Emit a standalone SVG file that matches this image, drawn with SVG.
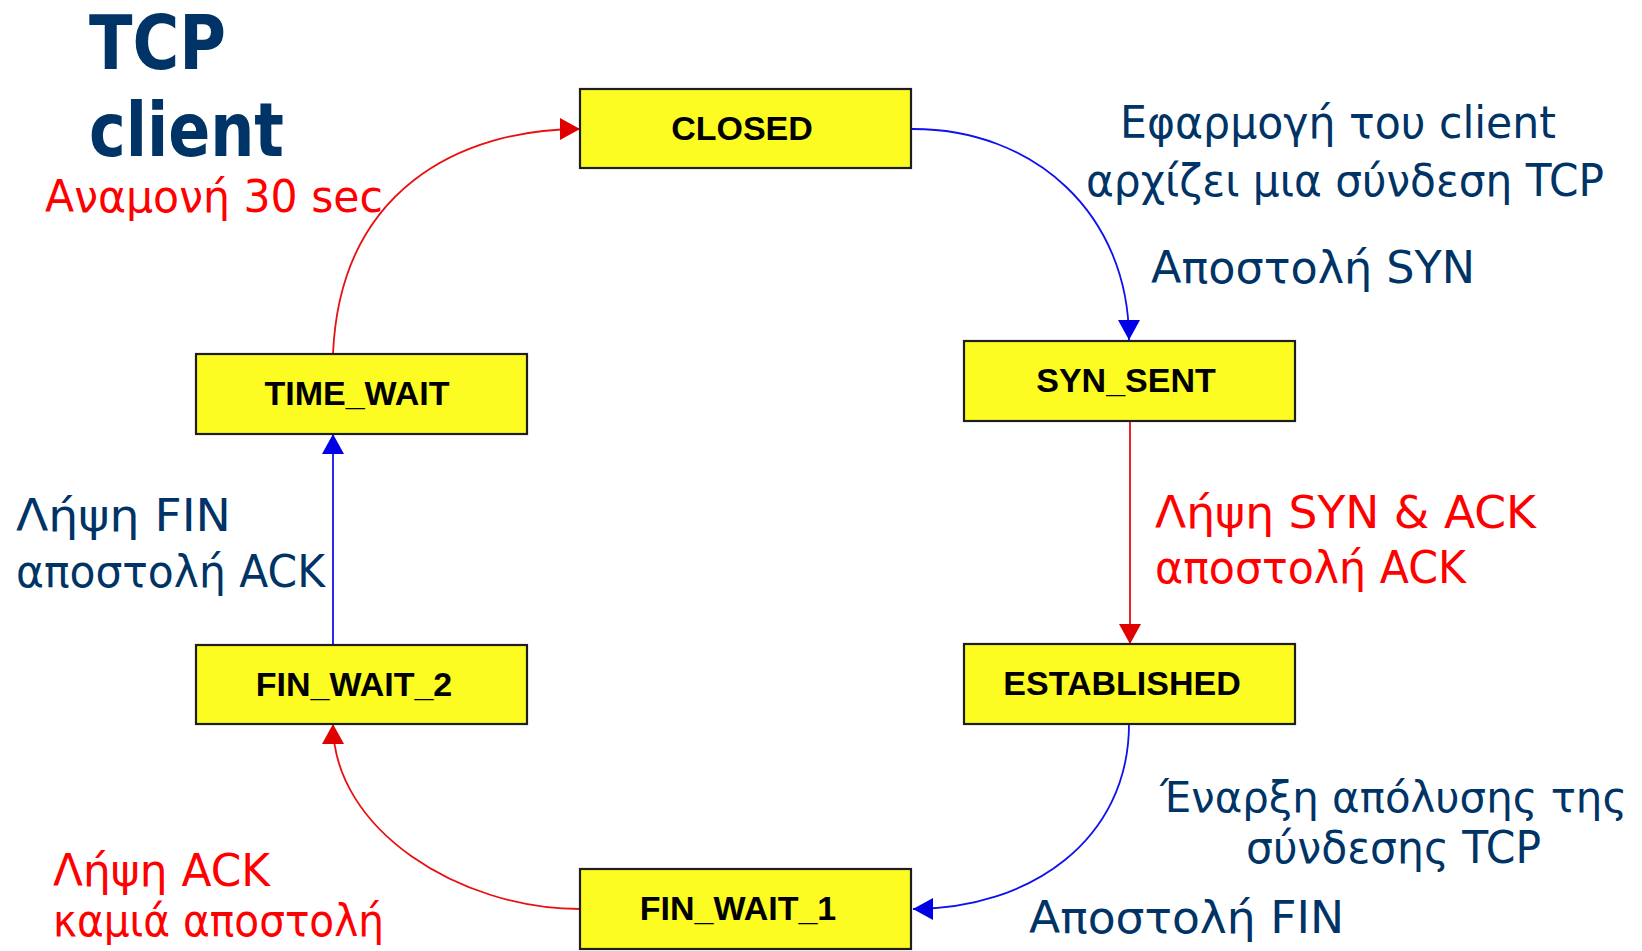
<svg xmlns="http://www.w3.org/2000/svg" width="1642" height="951" viewBox="0 0 1642 951">
<defs>
<style>
.box{fill:#FCFC22;stroke:#1e1e1e;stroke-width:2.2}
.st{font-family:"Liberation Sans",Arial,sans-serif;font-weight:bold;font-size:34px;fill:#000;text-anchor:middle}
.lb{font-family:"DejaVu Sans","Noto Sans",sans-serif;font-size:44px}
.navy{fill:#003366}
.red{fill:#FF0000}
.title{font-family:"DejaVu Sans","Noto Sans",sans-serif;font-weight:bold;font-size:74px;fill:#003366}
.cb{fill:none;stroke:#1010F0;stroke-width:1.8}
.cr{fill:none;stroke:#E81010;stroke-width:1.8}
</style>
<marker id="ab" viewBox="0 0 20 22" refX="20" refY="11" markerWidth="20" markerHeight="22" markerUnits="userSpaceOnUse" orient="auto">
<path d="M0,0 L20,11 L0,22 z" fill="#0000E8"/>
</marker>
<marker id="ar" viewBox="0 0 20 22" refX="20" refY="11" markerWidth="20" markerHeight="22" markerUnits="userSpaceOnUse" orient="auto">
<path d="M0,0 L20,11 L0,22 z" fill="#E00000"/>
</marker>
</defs>
<rect width="1642" height="951" fill="#ffffff"/>

<g id="connectors">
<path class="cb" d="M911,129 C1035,128 1129,215 1129,340" marker-end="url(#ab)"/>
<path class="cr" d="M1130,421 L1130,644" marker-end="url(#ar)"/>
<path class="cb" d="M1129,724 C1129,840 1030,909 913,909" marker-end="url(#ab)"/>
<path class="cr" d="M580,909 C460,909 333,830 333,724" marker-end="url(#ar)"/>
<path class="cb" d="M333,645 L333,434" marker-end="url(#ab)"/>
<path class="cr" d="M333,354 C340,190 460,129 580,129" marker-end="url(#ar)"/>
</g>

<g id="closed"><rect class="box" x="580" y="89" width="331" height="79"/><text class="st" x="742" y="140">CLOSED</text></g>
<g id="syn_sent"><rect class="box" x="964" y="341" width="331" height="80"/><text class="st" x="1126" y="392">SYN_SENT</text></g>
<g id="established"><rect class="box" x="964" y="644" width="331" height="80"/><text class="st" x="1122" y="695">ESTABLISHED</text></g>
<g id="fin_wait_1"><rect class="box" x="580" y="869" width="331" height="80"/><text class="st" x="738" y="920">FIN_WAIT_1</text></g>
<g id="fin_wait_2"><rect class="box" x="196" y="645" width="331" height="79"/><text class="st" x="354" y="696">FIN_WAIT_2</text></g>
<g id="time_wait"><rect class="box" x="196" y="354" width="331" height="80"/><text class="st" x="357" y="405">TIME_WAIT</text></g>

<g id="labels">
<text class="title" x="89" y="69" textLength="137" lengthAdjust="spacingAndGlyphs">TCP</text>
<text class="title" x="89" y="156" textLength="195" lengthAdjust="spacingAndGlyphs">client</text>
<text class="lb red" x="45" y="212" textLength="338" lengthAdjust="spacingAndGlyphs">Αναμονή 30 sec</text>
<text class="lb navy" x="1120" y="138" textLength="436" lengthAdjust="spacingAndGlyphs">Εφαρμογή του client</text>
<text class="lb navy" x="1086" y="196" textLength="518" lengthAdjust="spacingAndGlyphs">αρχίζει μια σύνδεση TCP</text>
<text class="lb navy" x="1151" y="283" textLength="324" lengthAdjust="spacingAndGlyphs">Αποστολή SYN</text>
<text class="lb red" x="1155" y="528" textLength="381" lengthAdjust="spacingAndGlyphs">Λήψη SYN &amp; ACK</text>
<text class="lb red" x="1155" y="583" textLength="311" lengthAdjust="spacingAndGlyphs">αποστολή ACK</text>
<text class="lb navy" x="16" y="531" textLength="215" lengthAdjust="spacingAndGlyphs">Λήψη FIN</text>
<text class="lb navy" x="16" y="587" textLength="309" lengthAdjust="spacingAndGlyphs">αποστολή ACK</text>
<text class="lb navy" x="1160" y="812" font-size="42" style="font-size:42px" textLength="467" lengthAdjust="spacingAndGlyphs">Έναρξη απόλυσης της</text>
<text class="lb navy" x="1246" y="863" textLength="295" lengthAdjust="spacingAndGlyphs">σύνδεσης TCP</text>
<text class="lb navy" x="1029" y="933" textLength="315" lengthAdjust="spacingAndGlyphs">Αποστολή FIN</text>
<text class="lb red" x="53" y="886" textLength="217" lengthAdjust="spacingAndGlyphs">Λήψη ACK</text>
<text class="lb red" x="53" y="936" textLength="331" lengthAdjust="spacingAndGlyphs">καμιά αποστολή</text>
</g>
</svg>
